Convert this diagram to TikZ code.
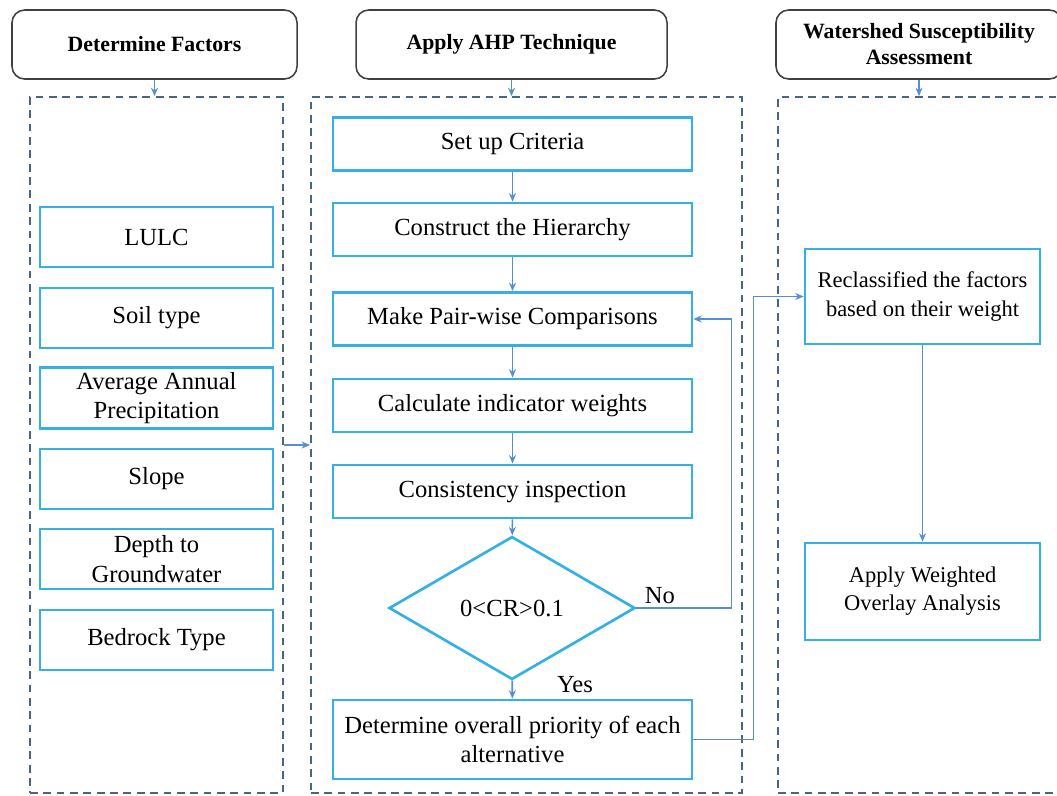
\documentclass[tikz,border=0pt]{standalone}
\usepackage{fontspec}
\setmainfont{Liberation Serif}
\usetikzlibrary{positioning,arrows.meta,shapes.geometric}
\definecolor{BoxCyan}{RGB}{52,176,226}
\definecolor{FrameGrey}{RGB}{72,102,132}
\definecolor{ArrowBlue}{RGB}{86,142,212}
\definecolor{HeadGrey}{RGB}{64,64,64}

\begin{document}
\begin{tikzpicture}[
head/.style={draw=HeadGrey, rounded corners=9pt, line width=1.1pt, fill=white,
minimum height=1.725cm, align=center, font=\fontsize{15.5}{18.5}\selectfont\bfseries},
frame/.style={draw=FrameGrey, line width=1.3pt, dash pattern=on 5.5pt off 4pt,
minimum height=17.4cm},
box/.style={draw=BoxCyan, line width=1.9pt, fill=white, align=center,
font=\fontsize{17.5}{21}\selectfont},
rbox/.style={box, minimum width=5.875cm, font=\fontsize{16}{20}\selectfont},
decide/.style={diamond, draw=BoxCyan, line width=1.9pt, fill=white, inner sep=0pt,
minimum width=6.15cm, minimum height=3.575cm, font=\fontsize{17.5}{21}\selectfont},
lbl/.style={font=\fontsize{17.5}{21}\selectfont},
line/.style={draw=ArrowBlue, line width=1.2pt, -{Stealth[length=6pt,width=5pt]}}]
\useasboundingbox (0,0) rectangle (26.425,-19.875);
% column headers
\node[head, minimum width=7.125cm] (hd1) at (3.863,-1.1125) {Determine Factors};
\node[head, minimum width=7.775cm] (hd2) at (12.788,-1.1125) {Apply AHP Technique};
\node[head, minimum width=7.15cm] (hd3) at (22.975,-1.1125) {Watershed Susceptibility\\Assessment};
% dashed containers
\node[frame, minimum width=6.325cm] (f1) at (3.9125,-11.125) {};
\node[frame, minimum width=10.775cm] (f2) at (13.1625,-11.125) {};
\node[frame, minimum width=7.3cm] (f3) at (23.1,-11.125) {};
\draw[line] (hd1.south) -- (hd1.south |- f1.north);
\draw[line] (hd2.south) -- (hd2.south |- f2.north);
\draw[line] (hd3.south) -- (hd3.south |- f3.north);
% factors
\node[box, minimum width=5.825cm, minimum height=1.5cm] (lulc) at (3.9125,-5.925) {LULC};
\node[box, minimum width=5.825cm, minimum height=1.5cm] (soil) at (3.9125,-7.95) {Soil type};
\node[box, minimum width=5.825cm, minimum height=1.5cm] (prec) at (3.9125,-9.95) {Average Annual\\Precipitation};
\node[box, minimum width=5.825cm, minimum height=1.5cm] (slope) at (3.9125,-11.975) {Slope};
\node[box, minimum width=5.825cm, minimum height=1.5cm] (depth) at (3.9125,-13.975) {Depth to\\Groundwater};
\node[box, minimum width=5.825cm, minimum height=1.5cm] (rock) at (3.9125,-16.0) {Bedrock Type};
% AHP steps
\node[box, minimum width=8.975cm, minimum height=1.33cm] (s1) at (12.8125,-3.6) {Set up Criteria};
\node[box, minimum width=8.975cm, minimum height=1.33cm] (s2) at (12.8125,-5.7375) {Construct the Hierarchy};
\node[box, minimum width=8.975cm, minimum height=1.33cm] (s3) at (12.8125,-7.975) {Make Pair-wise Comparisons};
\node[box, minimum width=8.975cm, minimum height=1.33cm] (s4) at (12.8125,-10.1375) {Calculate indicator weights};
\node[box, minimum width=8.975cm, minimum height=1.33cm] (s5) at (12.8125,-12.2875) {Consistency inspection};
\node[decide] (cr) at (12.8,-15.2) {0<CR>0.1};
\node[box, minimum width=8.975cm, minimum height=1.975cm] (s6) at (12.8125,-18.4875) {Determine overall priority of each\\alternative};
\node[lbl] (no) at (16.5,-14.9) {No};
\node[lbl] (yes) at (14.375,-17.125) {Yes};
% assessment
\node[rbox, minimum height=2.375cm] (r1) at (23.0625,-7.4125) {Reclassified the factors\\based on their weight};
\node[rbox, minimum height=2.425cm] (r2) at (23.0625,-14.7875) {Apply Weighted\\Overlay Analysis};
% connectors
\draw[line] (f1.east) -- (f2.west);
\draw[line] (s1)--(s2); \draw[line] (s2)--(s3); \draw[line] (s3)--(s4);
\draw[line] (s4)--(s5); \draw[line] (s5)--(cr); \draw[line] (cr)--(s6);
\draw[line] (cr.east) -| ([xshift=0.95cm]s3.east) -- (s3.east);
\draw[line] (s6.east) -- ++(1.5,0) |- (r1.west);
\draw[line] (r1)--(r2);
\end{tikzpicture}
\end{document}
